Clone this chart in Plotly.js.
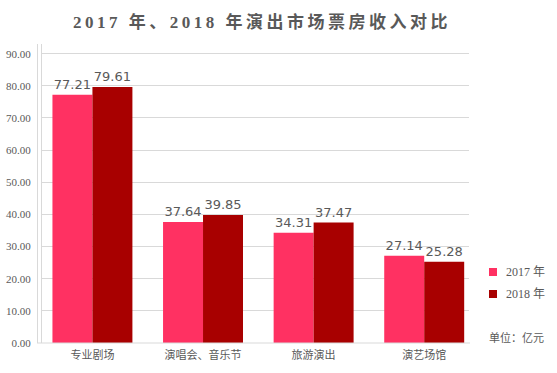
<!DOCTYPE html>
<html>
<head>
<meta charset="utf-8">
<script src="https://cdn.plot.ly/plotly-3.0.1.min.js"></script>
<style>html,body{margin:0;padding:0;background:#fff;}#chart{width:557px;height:373px;}</style>
</head>
<body>
<div id="chart"></div>
<script>
const categories = ['专业剧场', '演唱会、音乐节', '旅游演出', '演艺场馆'];
const seriesNames = ['2017 年', '2018 年'];
const values2017 = [77.21, 37.64, 34.31, 27.14];
const values2018 = [79.61, 39.85, 37.47, 25.28];
const yTickValues = [0, 10, 20, 30, 40, 50, 60, 70, 80, 90];
const titleText = '2017 年、2018 年演出市场票房收入对比';
const unitText = '单位：亿元';
const colors = ['#FF3162', '#A80000'];

const W = 557, H = 373;
const L = 42, R = 469, T = 44, B = 343;
const px = x => (x - L) / (R - L);
const py = y => (B - y) / (B - T);

const gray = '#595959';
const labelFont = {family: 'DejaVu Sans', size: 13, color: gray};

function barTrace(name, vals, color) {
  return {
    type: 'bar', name: name, x: [0,1,2,3], y: vals,
    marker: {color: color, line: {width: 0}},
    text: vals.map(v => v.toFixed(2)),
    textposition: 'outside', textfont: labelFont,
    cliponaxis: false, hoverinfo: 'skip', showlegend: false
  };
}

const data = [barTrace(seriesNames[0], values2017, colors[0]), barTrace(seriesNames[1], values2018, colors[1])];

const shapes = [
  {type: 'line', xref: 'paper', yref: 'paper', x0: px(37.5), x1: px(37.5), y0: 0, y1: 1, line: {color: '#d9d9d9', width: 1}},
  {type: 'line', xref: 'paper', yref: 'paper', x0: px(37), x1: px(470), y0: 0, y1: 0, line: {color: '#d9d9d9', width: 1}},
  {type: 'rect', xref: 'paper', yref: 'paper', x0: px(489), x1: px(497), y0: py(276), y1: py(268), fillcolor: colors[0], line: {width: 0}},
  {type: 'rect', xref: 'paper', yref: 'paper', x0: px(489), x1: px(497), y0: py(298), y1: py(290), fillcolor: colors[1], line: {width: 0}}
];

const annotations = [
  {xref: 'paper', yref: 'paper', x: px(504), y: py(272), xanchor: 'left', yanchor: 'middle', text: seriesNames[0], showarrow: false, font: {family: 'Liberation Serif, Noto Sans CJK SC', size: 12, color: gray}},
  {xref: 'paper', yref: 'paper', x: px(504), y: py(294), xanchor: 'left', yanchor: 'middle', text: seriesNames[1], showarrow: false, font: {family: 'Liberation Serif, Noto Sans CJK SC', size: 12, color: gray}},
  {xref: 'paper', yref: 'paper', x: px(487), y: py(337), xanchor: 'left', yanchor: 'middle', text: unitText, showarrow: false, font: {family: 'Noto Sans CJK SC', size: 11, color: gray}}
];

const layout = {
  width: W, height: H,
  margin: {l: L, r: W - R, t: T, b: H - B, pad: 0},
  paper_bgcolor: '#fff', plot_bgcolor: '#fff',
  title: {
    text: '<b>' + titleText + '</b>',
    x: 73 / W, xanchor: 'left', xref: 'container',
    y: 1 - 22 / H, yanchor: 'middle', yref: 'container',
    font: {family: 'Liberation Serif, Noto Sans CJK SC', size: 17, color: gray}
  },
  barmode: 'group', bargap: 0.277, bargroupgap: 0,
  xaxis: {
    range: [-0.456, 3.405], tickvals: [0,1,2,3], ticktext: categories,
    showgrid: false, zeroline: false, showline: false, ticks: '',
    tickfont: {family: 'Noto Sans CJK SC', size: 11, color: gray},
    ticklabelstandoff: 4, fixedrange: true
  },
  yaxis: {
    range: [0, 93], tickvals: yTickValues, ticktext: yTickValues.map(v => v.toFixed(2)),
    showgrid: true, gridcolor: '#d9d9d9', gridwidth: 1,
    zeroline: false, showline: true, linecolor: '#d9d9d9', linewidth: 1, ticks: '',
    tickfont: {family: 'Liberation Serif', size: 11, color: gray},
    ticklabelstandoff: 8, fixedrange: true
  },
  shapes: shapes, annotations: annotations, showlegend: false
};

Plotly.newPlot('chart', data, layout, {staticPlot: true, displayModeBar: false}).then(() => {
  const t = document.querySelector('.gtitle');
  if (t) t.style.letterSpacing = '3.5px';
});
</script>
</body>
</html>
